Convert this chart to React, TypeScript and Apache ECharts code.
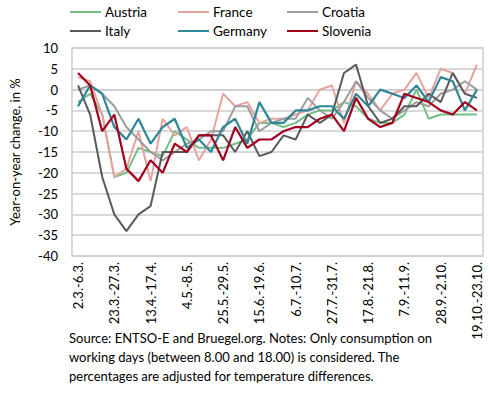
import React, { useEffect, useRef } from "react";
import * as echarts from "echarts";

const categories = [
  "2.3.-6.3.", "9.3.-13.3.", "16.3.-20.3.", "23.3.-27.3.", "30.3.-3.4.", "6.4.-10.4.",
  "13.4.-17.4.", "20.4.-24.4.", "27.4.-1.5.", "4.5.-8.5.", "11.5.-15.5.", "18.5.-22.5.",
  "25.5.-29.5.", "1.6.-5.6.", "8.6.-12.6.", "15.6.-19.6.", "22.6.-26.6.", "29.6.-3.7.",
  "6.7.-10.7.", "13.7.-17.7.", "20.7.-24.7.", "27.7.-31.7.", "3.8.-7.8.", "10.8.-14.8.",
  "17.8.-21.8.", "24.8.-28.8.", "31.8.-4.9.", "7.9.-11.9.", "14.9.-18.9.", "21.9.-25.9.",
  "28.9.-2.10.", "5.10.-9.10.", "12.10.-16.10.", "19.10.-23.10."
];

const austria = [-3, -1, -6, -21, -20, -14, -15, -16, -10, -12, -14, -14, -14, -13, -12, -8, -8, -9, -8, -6, -5, -5, -3, -4, -7, -8, -8, -6, 0, -7, -6, -6, -6, -6];
const france = [3, 2, -6, -21, -19, -10, -22, -7, -11, -9, -17, -12, -1, -4, -3, -8, -7, -7, -6, -5, 0, 1, -8, 2, -1, -5, -1, 0, 4, -2, 5, 4, -1, 6];
const croatia = [0, 1, -1, -4, -9, -12, -15, -17, -15, -13, -12, -10, -10, -4, -4, -10, -8, -7, -7, -2, -5, -7, -3, 2, -2, -5, -7, -5, -3, -4, -1, 0, 2, 0];
const italy = [1, -6, -21, -30, -34, -30, -28, -15, -15, -15, -11, -11, -11, -15, -10, -16, -15, -11, -12, -6, -8, -6, 4, 6, -4, -8, -7, -4, -4, -1, -3, 4, -1, -2];
const germany = [-4, 1, -1, -9, -12, -7, -13, -9, -7, -14, -12, -15, -9, -7, -13, -3, -8, -8, -5, -5, -4, -4, -7, -1, -4, 0, -1, -2, 1, -3, 3, 2, -5, 0];
const slovenia = [4, 1, -10, -6, -19, -22, -17, -20, -13, -15, -11, -11, -17, -9, -14, -12, -12, -10, -9, -9, -7, -6, -10, -2, -7, -9, -8, -1, -2, -3, -5, -6, -3, -5];

const yMin = -40;
const yMax = 10;
const yStep = 5;

const FONT = "Lato";

export default function App() {
  const ref = useRef<HTMLDivElement>(null);
  useEffect(() => {
    document.body.style.margin = "0";
    const chart = echarts.init(ref.current!, undefined, { renderer: "svg" });
    const mk = (name: string, data: number[], color: string, width = 2) => ({
      name,
      type: "line",
      data,
      symbol: "none",
      lineStyle: { color, width },
      itemStyle: { color },
    });
    const legendBase = {
      orient: "vertical",
      top: 4,
      icon: "rect",
      itemWidth: 31,
      itemHeight: 2,
      itemGap: 3,
      padding: 0,
      textStyle: { fontFamily: FONT, fontSize: 13.5, color: "#000", lineHeight: 16, padding: [0, 0, 0, -1] },
    };
    chart.setOption({
      animation: false,
      textStyle: { fontFamily: FONT },
      title: {
        text:
          "Source: ENTSO-E and Bruegel.org. Notes: Only consumption on\nworking days (between 8.00 and 18.00) is considered. The\npercentages are adjusted for temperature differences.",
        left: 69,
        top: 328,
        padding: 0,
        textStyle: { fontFamily: FONT, fontSize: 13, fontWeight: "normal", color: "#000", lineHeight: 19 },
      },
      legend: [
        { ...legendBase, left: 70, data: ["Austria", "Italy"] },
        { ...legendBase, left: 178, data: ["France", "Germany"] },
        { ...legendBase, left: 287, data: ["Croatia", "Slovenia"] },
      ],
      grid: {
        left: 68,
        right: 7,
        top: 48,
        bottom: 138,
        show: true,
        borderColor: "#cdcdcd",
        borderWidth: 1.5,
        containLabel: false,
      },
      xAxis: {
        type: "category",
        data: categories,
        boundaryGap: true,
        axisLine: { show: true, lineStyle: { color: "#cdcdcd", width: 1.5 } },
        axisTick: { show: false },
        axisLabel: {
          interval: 2,
          rotate: 90,
          margin: 6,
          fontSize: 13,
          color: "#000",
          fontFamily: FONT,
        },
      },
      yAxis: {
        type: "value",
        min: yMin,
        max: yMax,
        interval: yStep,
        name: "Year-on-year change, in %",
        nameLocation: "middle",
        nameGap: 51,
        nameRotate: 90,
        nameTextStyle: { fontFamily: FONT, fontSize: 13, color: "#000" },
        axisLine: { show: false },
        axisTick: { show: false },
        axisLabel: { margin: 14, fontSize: 13, color: "#000", fontFamily: FONT },
        splitLine: { show: true, lineStyle: { color: "#cdcdcd", width: 1.5 } },
      },
      series: [
        mk("Austria", austria, "#74bf83"),
        mk("France", france, "#e6a3a0"),
        mk("Croatia", croatia, "#9d9d9d"),
        mk("Italy", italy, "#5a5a5a"),
        mk("Germany", germany, "#2e8697", 2.2),
        mk("Slovenia", slovenia, "#a4001e", 2.2),
      ],
    });
    return () => chart.dispose();
  }, []);
  return <div ref={ref} style={{ width: 490, height: 394 }} />;
}
